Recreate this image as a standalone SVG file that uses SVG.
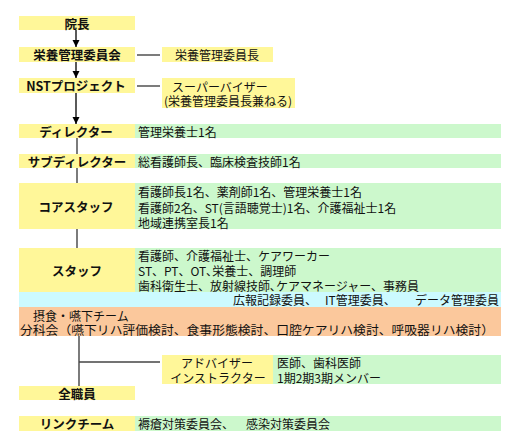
<svg xmlns="http://www.w3.org/2000/svg" width="520" height="446" viewBox="0 0 520 446">
<defs>
<style>
.y{fill:#FFF799}
.g{fill:#CCF8CC}
.c{fill:#CCFAFF}
.o{fill:#FBC89C}
text{font-family:"Noto Sans CJK JP","Noto Sans",sans-serif;fill:#111;dominant-baseline:central}
.b{font-size:12.5px;font-weight:bold;text-anchor:middle}
.n{font-size:12px}
.m{text-anchor:middle}
.ar{stroke:#000;stroke-width:1.3;fill:none}
.ln{stroke:#444;stroke-width:1.4;fill:none}
</style>
<marker id="ah" markerUnits="userSpaceOnUse" markerWidth="8" markerHeight="8" viewBox="0 0 8 8" refX="7" refY="4" orient="auto">
<path d="M0,0.5 L7,4 L0,7.5 Z" fill="#000"/>
</marker>
</defs>
<rect width="520" height="446" fill="#fff"/>

<g id="connectors">
<line class="ar" x1="76" y1="30" x2="76" y2="47" marker-end="url(#ah)"/>
<line class="ar" x1="76" y1="62" x2="76" y2="78" marker-end="url(#ah)"/>
<line class="ar" x1="76" y1="93" x2="76" y2="124" marker-end="url(#ah)"/>
<line class="ln" x1="137" y1="55" x2="160" y2="55"/>
<line class="ln" x1="137" y1="86" x2="160" y2="86"/>
<line class="ln" x1="77" y1="138" x2="77" y2="154"/>
<line class="ln" x1="77" y1="168" x2="77" y2="183"/>
<line class="ln" x1="77" y1="229" x2="77" y2="248"/>
<line class="ln" x1="79" y1="336" x2="79" y2="386"/>
<line class="ln" x1="79" y1="362" x2="160" y2="362"/>
</g>

<g id="incho">
<rect class="y" x="19" y="16" width="116" height="14"/>
<text class="b" x="77" y="23">院長</text>
</g>

<g id="eiyo-iinkai">
<rect class="y" x="19" y="47" width="116" height="15"/>
<text class="b" x="77" y="54.5">栄養管理委員会</text>
</g>

<g id="eiyo-iincho">
<rect class="y" x="162" y="47" width="111" height="15"/>
<text class="n m" x="217" y="54.5">栄養管理委員長</text>
</g>

<g id="nst">
<rect class="y" x="19" y="78" width="116" height="15"/>
<text class="b" x="76" y="85.5">NSTプロジェクト</text>
</g>

<g id="supervisor">
<rect class="y" x="162" y="78" width="133" height="30"/>
<text class="n" x="172" y="86">スーパーバイザー</text>
<text class="n" x="164" y="100">(栄養管理委員長兼ねる)</text>
</g>

<g id="director">
<rect class="y" x="19" y="124" width="116" height="14"/>
<rect class="g" x="135" y="124" width="366" height="14"/>
<text class="b" x="76" y="131">ディレクター</text>
<text class="n" x="138" y="131">管理栄養士1名</text>
</g>

<g id="sub-director">
<rect class="y" x="19" y="154" width="116" height="14"/>
<rect class="g" x="135" y="154" width="366" height="14"/>
<text class="b" x="77" y="161">サブディレクター</text>
<text class="n" x="138" y="161">総看護師長、臨床検査技師1名</text>
</g>

<g id="core-staff">
<rect class="y" x="19" y="183" width="116" height="46"/>
<rect class="g" x="135" y="183" width="366" height="46"/>
<text class="b" x="76" y="206">コアスタッフ</text>
<text class="n" x="138" y="191.5">看護師長1名、薬剤師1名、管理栄養士1名</text>
<text class="n" x="138" y="207">看護師2名、ST(言語聴覚士)1名、介護福祉士1名</text>
<text class="n" x="138" y="222">地域連携室長1名</text>
</g>

<g id="staff">
<rect class="y" x="19" y="248" width="116" height="44"/>
<rect class="g" x="135" y="248" width="366" height="44"/>
<text class="b" x="77" y="270">スタッフ</text>
<text class="n" x="138" y="255.5">看護師、介護福祉士、ケアワーカー</text>
<text class="n" x="138" y="270.5">ST、PT、OT､栄養士、調理師</text>
<text class="n" x="138" y="285">歯科衛生士、放射線技師､ケアマネージャー、事務員</text>
</g>

<g id="iin">
<rect class="c" x="19" y="292" width="482" height="15"/>
<text class="n" x="233" y="299.5">広報記録委員、</text>
<text class="n" x="325" y="299.5">IT管理委員、</text>
<text class="n" x="499" y="299.5" text-anchor="end">データ管理委員</text>
</g>

<g id="bunkakai">
<rect class="o" x="19" y="307" width="482" height="29"/>
<text class="n" x="33" y="315">摂食・嚥下チーム</text>
<text class="n" x="20" y="329" textLength="474" lengthAdjust="spacingAndGlyphs">分科会（嚥下リハ評価検討、食事形態検討、口腔ケアリハ検討、呼吸器リハ検討）</text>
</g>

<g id="adviser">
<rect class="y" x="162" y="355" width="111" height="29"/>
<rect class="g" x="273" y="355" width="228" height="29"/>
<text class="n m" x="217" y="362">アドバイザー</text>
<text class="n m" x="218" y="377">インストラクター</text>
<text class="n" x="277" y="362">医師、歯科医師</text>
<text class="n" x="277" y="377">1期2期3期メンバー</text>
</g>

<g id="zenshokuin">
<rect class="y" x="19" y="386" width="116" height="14"/>
<text class="b" x="77" y="393">全職員</text>
</g>

<g id="link-team">
<rect class="y" x="19" y="416" width="116" height="15"/>
<rect class="g" x="135" y="416" width="366" height="15"/>
<text class="b" x="77" y="423.5">リンクチーム</text>
<text class="n" x="138" y="423.5">褥瘡対策委員会、</text>
<text class="n" x="246" y="423.5">感染対策委員会</text>
</g>
</svg>
